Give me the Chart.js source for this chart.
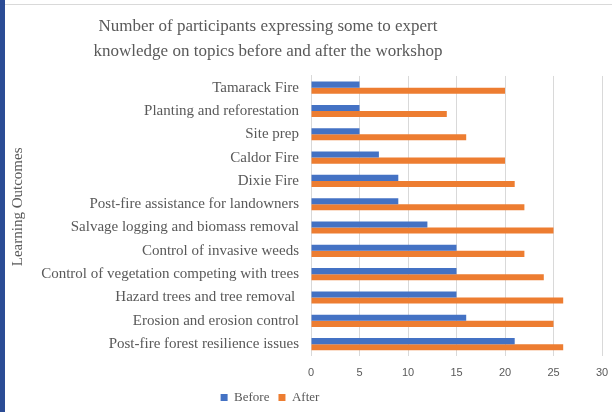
<!DOCTYPE html>
<html>
<head>
<meta charset="utf-8">
<script src="https://cdn.jsdelivr.net/npm/chart.js@4/dist/chart.umd.min.js"></script>
<style>
  html, body { margin: 0; padding: 0; background: #ffffff; }
  #wrap { position: relative; width: 612px; height: 412px; overflow: hidden; background: #fff; }
  #strip { position: absolute; left: 0; top: 0; width: 5px; height: 412px; background: #2B4C95; z-index: 2; }
  #topline { position: absolute; left: 0; top: 4px; width: 612px; height: 1px; background: #d9d9d9; z-index: 1; }
  canvas { position: absolute; left: 0; top: 0; }
</style>
</head>
<body>
<div id="wrap">
  <div id="topline"></div>
  <div id="strip"></div>
  <canvas id="c" width="612" height="412"></canvas>
</div>
<script>
const categories = [
  "Tamarack Fire",
  "Planting and reforestation",
  "Site prep",
  "Caldor Fire",
  "Dixie Fire",
  "Post-fire assistance for landowners",
  "Salvage logging and biomass removal",
  "Control of invasive weeds",
  "Control of vegetation competing with trees",
  "Hazard trees and tree removal ",
  "Erosion and erosion control",
  "Post-fire forest resilience issues"
];
const beforeValues = [5, 5, 5, 7, 9, 9, 12, 15, 15, 15, 16, 21];
const afterValues  = [20, 14, 16, 20, 21, 22, 25, 22, 24, 26, 25, 26];
const xTicks = [0, 5, 10, 15, 20, 25, 30];
const titleLines = [
  "Number of participants expressing some to expert",
  "knowledge on topics before and after the workshop"
];
const yAxisTitle = "Learning Outcomes";

const serif = "'Liberation Serif', 'Times New Roman', serif";
const grey = "#595959";

const shiftPlugin = {
  id: 'shift',
  afterLayout(chart) {
    if (chart.titleBlock) { chart.titleBlock.left = 6; chart.titleBlock.right = 530; }
    if (chart.legend) {
      chart.legend.left = 6; chart.legend.right = 534;
      const h = chart.legend.height;
      chart.legend.top = 382; chart.legend.bottom = 382 + h;
    }
  },
  beforeDraw(chart) {
    const s = chart.scales.y;
    if (s && !s._titleShifted) {
      const orig = s.drawTitle;
      s.drawTitle = function () {
        const t = this.top, b = this.bottom;
        this.top = t - 9; this.bottom = b - 9;
        orig.apply(this, arguments);
        this.top = t; this.bottom = b;
      };
      s._titleShifted = true;
    }
  }
};

new Chart(document.getElementById('c'), {
  type: 'bar',
  data: {
    labels: categories,
    datasets: [
      { label: 'Before', data: beforeValues, backgroundColor: '#4472C4', borderWidth: 0 },
      { label: 'After', data: afterValues, backgroundColor: '#ED7D31', borderWidth: 0 }
    ]
  },
  options: {
    indexAxis: 'y',
    responsive: false,
    animation: false,
    devicePixelRatio: 1,
    layout: { padding: { left: 6, right: 0, top: 0, bottom: 0 } },
    datasets: { bar: { categoryPercentage: 0.52, barPercentage: 1.0 } },
    scales: {
      x: {
        min: 0, max: 30,
        afterBuildTicks(scale) { scale.ticks = xTicks.map(v => ({ value: v })); },
        afterFit(scale) { scale.paddingRight = 10; },
        grid: { color: '#d9d9d9', lineWidth: 1, drawTicks: false },
        border: { display: false },
        ticks: { color: grey, padding: 11, font: { family: "'Liberation Sans', 'Open Sans', sans-serif", size: 11 } }
      },
      y: {
        grid: { display: false, drawTicks: false },
        border: { display: true, color: '#d9d9d9', width: 1 },
        ticks: { color: grey, padding: 12, autoSkip: false, font: { family: serif, size: 15 } },
        title: { display: true, text: yAxisTitle, color: grey, padding: { top: 3, bottom: 0 }, font: { family: serif, size: 15 } },
        afterFit(scale) { scale.width = 305; }
      }
    },
    plugins: {
      title: {
        display: true,
        text: titleLines,
        color: grey,
        font: { family: serif, size: 17, weight: 'normal', lineHeight: 1.47 },
        padding: { top: 14, bottom: 12 }
      },
      legend: {
        position: 'bottom',
        maxHeight: 21,
        labels: {
          color: grey,
          boxWidth: 7,
          boxHeight: 7,
          padding: 9,
          font: { family: serif, size: 13 }
        }
      },
      tooltip: { enabled: false }
    }
  },
  plugins: [shiftPlugin]
});
</script>
</body>
</html>
